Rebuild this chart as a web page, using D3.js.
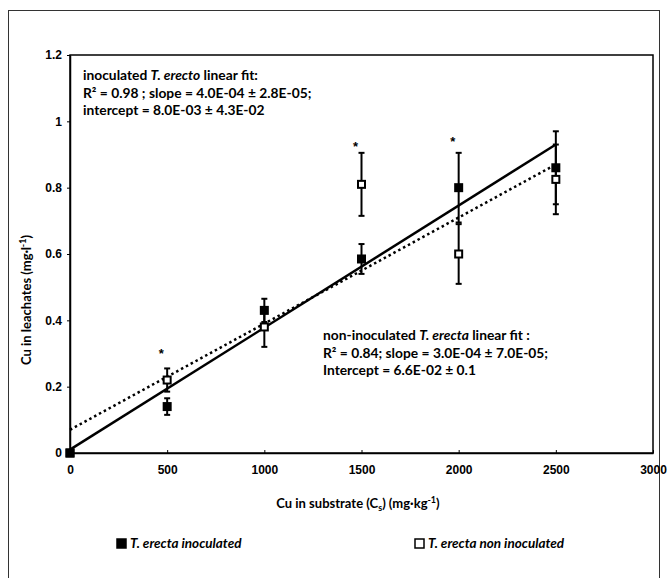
<!DOCTYPE html>
<head>
<meta charset="utf-8">
<title>Cu in leachates</title>
<style>
  body { margin: 0; background: #fff; }
  svg text { fill: #000; }
  .tick text { font-family: "Liberation Sans", Arial, sans-serif; font-weight: bold; font-size: 12px; }
  .note { font-family: Lato, "Open Sans", sans-serif; font-weight: bold; font-size: 13.8px; }
</style>
</head>

<div id="chart"></div>

<script src="https://cdn.jsdelivr.net/npm/d3@7"></script>
<script>
// doses of Cu in substrate (mg/kg)
let doses = [0, 500, 1000, 1500, 2000, 2500];

// T. erecta inoculated (filled squares)
let inocMean = [0, 0.14, 0.43, 0.585, 0.80, 0.86];
let inocErr  = [0, 0.025, 0.035, 0.045, 0.105, 0.11];

// T. erecta non inoculated (open squares)
let nonMean = [0, 0.22, 0.38, 0.81, 0.60, 0.825];
let nonErr  = [0, 0.035, 0.06, 0.095, 0.09, 0.105];

// linear fits, drawn
let fitX    = [0, 2500];
let inocFit = [0.01, 0.93];
let nonFit  = [0.07, 0.87];

// significance asterisks
let starX = [500, 1500, 2000];
let starY = [0.305, 0.93, 0.945];

let xTicks = [0, 500, 1000, 1500, 2000, 2500, 3000];
let yTicks = [0, 0.2, 0.4, 0.6, 0.8, 1, 1.2];

let W = 668, H = 578;
let x = d3.scaleLinear().domain([0, 3000]).range([70, 653]);
let y = d3.scaleLinear().domain([0, 1.2]).range([453, 55]);

let svg = d3.select("#chart").append("svg")
    .attr("width", W).attr("height", H);

// outer frame
svg.append("rect")
    .attr("x", 8.5).attr("y", 10.5)
    .attr("width", 651).attr("height", 580)
    .attr("fill", "none").attr("stroke", "#333").attr("stroke-width", 1);

// plot box
svg.append("rect")
    .attr("x", x(0)).attr("y", y(1.2))
    .attr("width", x(3000) - x(0)).attr("height", y(0) - y(1.2))
    .attr("fill", "none").attr("stroke", "#000").attr("stroke-width", 1.5);

// axes
let xAxis = d3.axisBottom(x).tickValues(xTicks).tickFormat(d3.format("d"))
    .tickSizeInner(-3).tickSizeOuter(0).tickPadding(12);
svg.append("g").attr("transform", "translate(0," + y(0) + ")").call(xAxis)
    .call(g => g.select(".domain").attr("stroke-width", 1.5));

let yAxis = d3.axisLeft(y).tickValues(yTicks).tickFormat(d => d3.format("")(d))
    .tickSizeInner(3).tickSizeOuter(0).tickPadding(5);
svg.append("g").attr("transform", "translate(" + x(0) + ",0)").call(yAxis)
    .call(g => g.select(".domain").attr("stroke-width", 1.5));

// fit lines
let fitLine = d3.line().x(d => x(d[0])).y(d => y(d[1]));
svg.append("path")
    .datum(fitX.map((d, i) => [d, nonFit[i]]))
    .attr("d", fitLine)
    .attr("fill", "none").attr("stroke", "#000")
    .attr("stroke-width", 2.5).attr("stroke-dasharray", "2.5,3");
svg.append("path")
    .datum(fitX.map((d, i) => [d, inocFit[i]]))
    .attr("d", fitLine)
    .attr("fill", "none").attr("stroke", "#000").attr("stroke-width", 2.5);

// error bars
function errorBars(mean, err) {
    let g = svg.append("g").attr("stroke", "#000").attr("stroke-width", 2);
    doses.forEach((d, i) => {
        if (err[i] <= 0) return;
        let cx = x(d), lo = y(mean[i] - err[i]), hi = y(mean[i] + err[i]);
        g.append("line").attr("x1", cx).attr("x2", cx).attr("y1", lo).attr("y2", hi);
        g.append("line").attr("x1", cx - 3).attr("x2", cx + 3).attr("y1", lo).attr("y2", lo);
        g.append("line").attr("x1", cx - 3).attr("x2", cx + 3).attr("y1", hi).attr("y2", hi);
    });
}
errorBars(nonMean, nonErr);
errorBars(inocMean, inocErr);

// markers
let s = 9;
svg.append("g").selectAll("rect")
    .data(doses)
    .join("rect")
    .attr("x", (d) => x(d) - (s - 2) / 2).attr("y", (d, i) => y(nonMean[i]) - (s - 2) / 2)
    .attr("width", s - 2).attr("height", s - 2)
    .attr("fill", "#fff").attr("stroke", "#000").attr("stroke-width", 2);
svg.append("g").selectAll("rect")
    .data(doses)
    .join("rect")
    .attr("x", (d) => x(d) - s / 2).attr("y", (d, i) => y(inocMean[i]) - s / 2)
    .attr("width", s).attr("height", s)
    .attr("fill", "#000");

// asterisks
svg.append("g").selectAll("text")
    .data(starX)
    .join("text")
    .attr("x", d => x(d) - 6).attr("y", (d, i) => y(starY[i]) + 6)
    .attr("text-anchor", "middle")
    .style("font-family", "Liberation Sans").style("font-weight", "bold").style("font-size", "13px")
    .text("*");

// fit annotations
function note(x0, y0, lines) {
    let t = svg.append("text").attr("class", "note");
    lines.forEach((ln, i) => {
        let tl = t.append("tspan").attr("x", x0).attr("y", y0 + i * 17.5);
        ln.forEach(part => {
            let sp = tl.append("tspan").text(part.t);
            if (part.i) sp.style("font-style", "italic");
        });
    });
}
note(83, 80, [
    [{t: "inoculated "}, {t: "T. erecto", i: true}, {t: " linear fit:"}],
    [{t: "R² = 0.98 ; slope = 4.0E-04 ± 2.8E-05;"}],
    [{t: "intercept = 8.0E-03 ± 4.3E-02"}]
]);
note(323, 340, [
    [{t: "non-inoculated "}, {t: "T. erecta", i: true}, {t: " linear fit :"}],
    [{t: "R² = 0.84; slope = 3.0E-04 ± 7.0E-05;"}],
    [{t: "Intercept  = 6.6E-02 ± 0.1"}]
]);

// axis titles
let yt = svg.append("text")
    .attr("transform", "translate(31," + 300 + ") rotate(-90)")
    .attr("text-anchor", "middle")
    .attr("class", "note").style("font-size", "13px");
yt.append("tspan").text("Cu in leachates (mg·l");
yt.append("tspan").attr("dy", -5).style("font-size", "9px").text("-1");
yt.append("tspan").attr("dy", 5).text(")");

let xt = svg.append("text")
    .attr("x", 358).attr("y", 508)
    .attr("text-anchor", "middle")
    .attr("class", "note").style("font-size", "13px");
xt.append("tspan").text("Cu in substrate (C");
xt.append("tspan").attr("dy", 3).style("font-size", "9px").text("s");
xt.append("tspan").attr("dy", -3).text(") (mg·kg");
xt.append("tspan").attr("dy", -5).style("font-size", "9px").text("-1");
xt.append("tspan").attr("dy", 5).text(")");

// legend
let legend = [
    {label: "T. erecta inoculated", x: 117, fill: "#000"},
    {label: "T. erecta non inoculated", x: 415, fill: "#fff"}
];
let lg = svg.append("g").selectAll("g").data(legend).join("g")
    .attr("transform", d => "translate(" + d.x + ",548)");
lg.append("rect")
    .attr("x", 0).attr("y", -9).attr("width", 9).attr("height", 9)
    .attr("fill", d => d.fill).attr("stroke", "#000").attr("stroke-width", 1.5);
lg.append("text")
    .attr("x", 13).attr("y", 0)
    .attr("class", "note").style("font-style", "italic").style("font-size", "13.5px")
    .text(d => d.label);
</script>
